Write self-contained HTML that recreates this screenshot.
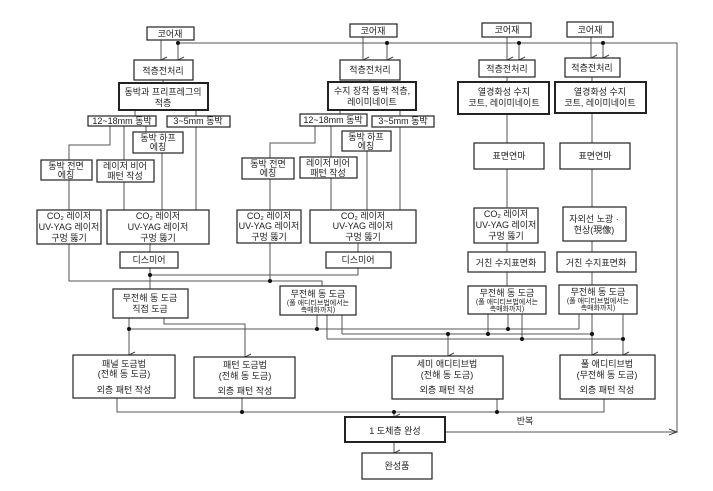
<!DOCTYPE html>
<html><head><meta charset="utf-8"><style>
body{margin:0;background:#fff}
svg{display:block}
text{font-family:"Liberation Sans","Noto Sans CJK KR","NanumGothic",sans-serif;font-size:9px;fill:#222;text-anchor:middle}
.s{font-size:7px}
rect{fill:#fff;stroke:#222;stroke-width:1.2}
.t{stroke-width:2}
.l{fill:none;stroke:#555;stroke-width:1}
.d{fill:#111}
</style></head><body>
<svg width="713" height="491" viewBox="0 0 713 491" xmlns="http://www.w3.org/2000/svg">
<defs><marker id="a" markerWidth="8" markerHeight="8" refX="4" refY="7" orient="auto" markerUnits="userSpaceOnUse"><path d="M1,1 L4,7 L7,1" fill="none" stroke="#444" stroke-width="1"/></marker>
<marker id="ar" markerWidth="10" markerHeight="8" refX="9" refY="4" orient="0" markerUnits="userSpaceOnUse"><path d="M1,1 L9,4 L1,7" fill="none" stroke="#444" stroke-width="1"/></marker></defs>

<!-- connectors -->
<g class="l">
<!-- top feedback -->
<path d="M445,432 H677 V43 H178" marker-start="" />
<path d="M640,432 H677" marker-end="url(#ar)"/>
<path d="M161,40 V60" marker-end="url(#a)"/><path d="M178,43 V60" marker-end="url(#a)"/>
<path d="M363,37 V60" marker-end="url(#a)"/><path d="M387,43 V60" marker-end="url(#a)"/>
<path d="M507,37 V60" marker-end="url(#a)"/><path d="M519,43 V60" marker-end="url(#a)"/>
<path d="M591,37 V58" marker-end="url(#a)"/><path d="M603,43 V58" marker-end="url(#a)"/>
<!-- col1 -->
<path d="M163,80 V83"/><path d="M135,110 V116"/><path d="M196,110 V116"/>
<path d="M110,126 V145 H69 V160"/><path d="M124,126 V160"/><path d="M146,126 V132"/>
<path d="M162,153 V210"/><path d="M196,127 V210"/><path d="M69,180 V210"/><path d="M124,182 V210"/>
<path d="M69,244 V281 H322 V286"/><path d="M150,244 V252"/><path d="M150,268 V289"/>
<path d="M150,275 H358"/>
<path d="M129,318 V355" marker-end="url(#a)"/><path d="M164,318 V324 H245 V357" marker-end="url(#a)"/>
<!-- col2 -->
<path d="M370,80 V82"/><path d="M340,110 V114"/><path d="M400,110 V116"/>
<path d="M315,126 V143 H270 V158"/><path d="M331,126 V157"/>
<path d="M367,151 V210"/><path d="M400,127 V210"/><path d="M270,179 V210"/><path d="M331,178 V210"/>
<path d="M270,243 V281"/><path d="M358,243 V252"/><path d="M358,268 V275"/>
<path d="M317,315 V329"/><path d="M327,315 V339"/><path d="M342,315 V334"/>
<!-- col3 -->
<path d="M507,77 V82"/><path d="M507,114 V143"/><path d="M507,169 V208"/><path d="M507,243 V252"/><path d="M507,272 V286"/>
<path d="M488,314 V334"/><path d="M508,314 V329"/><path d="M522,314 V339"/>
<!-- col4 -->
<path d="M592,77 V82"/><path d="M592,113 V143"/><path d="M592,169 V207"/><path d="M592,241 V252"/><path d="M592,272 V285"/>
<path d="M579,314 V329"/><path d="M592,314 V355" marker-end="url(#a)"/><path d="M623,314 V355" marker-end="url(#a)"/>
<!-- buses -->
<path d="M129,329 H579"/><path d="M342,334 H592"/><path d="M327,339 H623"/>
<path d="M448,334 V356" marker-end="url(#a)"/>
<!-- bottom -->
<path d="M117,398 V412 H604 V399"/><path d="M242,398 V412"/><path d="M497,399 V412"/>
<path d="M394,412 V417" marker-end="url(#a)"/>
<path d="M394,442 V453" marker-end="url(#a)"/>
</g>
<g class="d">
<circle cx="178" cy="43" r="2"/><circle cx="387" cy="43" r="2"/><circle cx="519" cy="43" r="2"/><circle cx="603" cy="43" r="2"/>
<circle cx="150" cy="275" r="2"/><circle cx="270" cy="281" r="2"/><circle cx="129" cy="329" r="2"/><circle cx="317" cy="329" r="2"/>
<circle cx="448" cy="334" r="2"/><circle cx="488" cy="334" r="2"/><circle cx="508" cy="329" r="2"/><circle cx="522" cy="339" r="2"/>
<circle cx="592" cy="334" r="2"/><circle cx="623" cy="339" r="2"/><circle cx="242" cy="412" r="2"/><circle cx="394" cy="412" r="2"/><circle cx="497" cy="412" r="2"/>
</g>

<!-- col1 boxes -->
<rect x="147" y="27" width="47" height="13"/><text x="170" y="37">코어재</text>
<rect x="134" y="60" width="59" height="20"/><text x="163" y="74">적층전처리</text>
<rect class="t" x="119" y="83" width="89" height="27"/><text x="163" y="95">동박과 프리프레그의</text><text x="163" y="106">적층</text>
<rect x="88" y="116" width="68" height="10"/><text x="122" y="124">12~18mm 동박</text>
<rect x="167" y="116" width="63" height="11"/><text x="198" y="124">3~5mm 동박</text>
<rect x="133" y="132" width="50" height="21"/><text x="158" y="141">동박 하프</text><text x="158" y="150">에칭</text>
<rect x="41" y="160" width="51" height="20"/><text x="66" y="169">동박 전면</text><text x="66" y="178">에칭</text>
<rect x="97" y="160" width="57" height="22"/><text x="125" y="169">레이저 비어</text><text x="125" y="179">패턴 작성</text>
<rect x="37" y="210" width="64" height="34"/><text x="69" y="219">CO₂ 레이저</text><text x="69" y="230">UV-YAG 레이저</text><text x="69" y="241">구멍 뚫기</text>
<rect x="107" y="210" width="102" height="34"/><text x="158" y="219">CO₂ 레이저</text><text x="158" y="230">UV-YAG 레이저</text><text x="158" y="241">구멍 뚫기</text>
<rect x="120" y="252" width="58" height="16"/><text x="149" y="263">디스미어</text>
<rect x="113" y="289" width="75" height="29"/><text x="150" y="301">무전해 동 도금</text><text x="150" y="312">직접 도금</text>
<rect x="73" y="355" width="102" height="43"/><text x="124" y="367">패널 도금법</text><text x="124" y="377">(전해 동 도금)</text><text x="124" y="393">외층 패턴 작성</text>
<rect x="194" y="357" width="101" height="41"/><text x="245" y="368">패턴 도금법</text><text x="245" y="379">(전해 동 도금)</text><text x="245" y="394">외층 패턴 작성</text>

<!-- col2 -->
<rect x="350" y="24" width="47" height="13"/><text x="373" y="34">코어재</text>
<rect x="340" y="60" width="60" height="20"/><text x="370" y="73">적층전처리</text>
<rect class="t" x="328" y="82" width="88" height="28"/><text x="372" y="94">수지 장착 동박 적층,</text><text x="372" y="105">레이미네이트</text>
<rect x="300" y="114" width="67" height="12"/><text x="333" y="123">12~18mm 동박</text>
<rect x="372" y="116" width="62" height="11"/><text x="403" y="124">3~5mm 동박</text>
<rect x="342" y="131" width="49" height="20"/><text x="366" y="140">동박 하프</text><text x="366" y="149">에칭</text>
<rect x="242" y="158" width="52" height="21"/><text x="268" y="167">동박 전면</text><text x="268" y="176">에칭</text>
<rect x="300" y="157" width="57" height="21"/><text x="328" y="166">레이저 비어</text><text x="328" y="176">패턴 작성</text>
<rect x="237" y="210" width="64" height="33"/><text x="269" y="219">CO₂ 레이저</text><text x="269" y="229">UV-YAG 레이저</text><text x="269" y="240">구멍 뚫기</text>
<rect x="310" y="210" width="106" height="33"/><text x="363" y="219">CO₂ 레이저</text><text x="363" y="229">UV-YAG 레이저</text><text x="363" y="240">구멍 뚫기</text>
<rect x="326" y="252" width="65" height="16"/><text x="358" y="263">디스미어</text>
<rect x="280" y="286" width="76" height="29"/><text x="318" y="297">무전해 동 도금</text><text class="s" x="318" y="305">(풀 애디티브법에서는</text><text class="s" x="318" y="312">촉매화까지)</text>

<!-- col3 -->
<rect x="482" y="23" width="49" height="14"/><text x="507" y="33">코어재</text>
<rect x="479" y="60" width="56" height="17"/><text x="507" y="72">적층전처리</text>
<rect class="t" x="458" y="82" width="91" height="32"/><text x="504" y="95">열경화성 수지</text><text x="504" y="106">코트, 레이미네이트</text>
<rect x="474" y="143" width="70" height="26"/><text x="509" y="159">표면연마</text>
<rect x="474" y="208" width="64" height="35"/><text x="506" y="217">CO₂ 레이저</text><text x="506" y="228">UV-YAG 레이저</text><text x="506" y="239">구멍 뚫기</text>
<rect x="468" y="252" width="77" height="20"/><text x="506" y="266">거친 수지표면화</text>
<rect x="468" y="286" width="78" height="28"/><text x="507" y="296">무전해 동 도금</text><text class="s" x="507" y="304">(풀 애디티브법에서는</text><text class="s" x="507" y="311">촉매화까지)</text>
<rect x="392" y="356" width="111" height="43"/><text x="447" y="367">세미 애디티브법</text><text x="447" y="378">(전해 동 도금)</text><text x="447" y="393">외층 패턴 작성</text>

<!-- col4 -->
<rect x="567" y="22" width="46" height="15"/><text x="590" y="33">코어재</text>
<rect x="565" y="58" width="55" height="19"/><text x="592" y="71">적층전처리</text>
<rect class="t" x="555" y="82" width="91" height="31"/><text x="600" y="95">열경화성 수지</text><text x="600" y="106">코트, 레이미네이트</text>
<rect x="560" y="143" width="70" height="26"/><text x="595" y="159">표면연마</text>
<rect x="563" y="207" width="63" height="34"/><text x="594" y="222">자외선 노광 ·</text><text x="594" y="233">현상(現像)</text>
<rect x="557" y="252" width="79" height="20"/><text x="596" y="266">거친 수지표면화</text>
<rect x="559" y="285" width="78" height="29"/><text x="598" y="295">무전해 동 도금</text><text class="s" x="598" y="303">(풀 애디티브법에서는</text><text class="s" x="598" y="310">촉매화까지)</text>
<rect x="560" y="355" width="95" height="44"/><text x="607" y="367">풀 애디티브법</text><text x="607" y="378">(무전해 동 도금)</text><text x="607" y="393">외층 패턴 작성</text>

<!-- bottom -->
<rect class="t" x="345" y="417" width="100" height="25"/><text x="395" y="434">1 도체층 완성</text>
<rect x="362" y="453" width="70" height="26"/><text x="397" y="469">완성품</text>
<text x="525" y="424">반복</text>
</svg>
</body></html>
